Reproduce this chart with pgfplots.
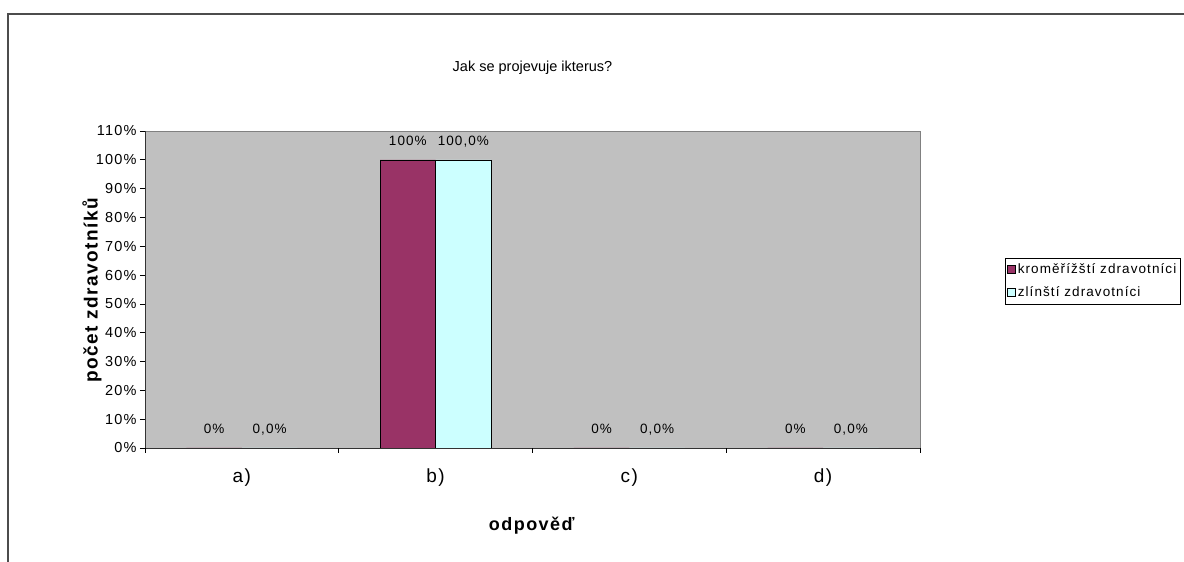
\documentclass[border=0pt]{standalone}
\usepackage{pgfplots}
\pgfplotsset{compat=1.18}
\usepackage{fontspec}
\setmainfont{Liberation Sans}
\newfontfamily\lsA[LetterSpace=8]{Liberation Sans}
\newfontfamily\lsB[LetterSpace=8]{Liberation Sans}
\definecolor{plum}{HTML}{993366}
\definecolor{lcyan}{HTML}{CCFFFF}
\definecolor{xlgray}{HTML}{C0C0C0}
\begin{document}
\begin{tikzpicture}[x=1pt,y=1pt]
\useasboundingbox (0,0) rectangle (1184,562);
\draw[line width=1.5pt, black!70] (8,0) -- (8,548) -- (1184,548);
\begin{axis}[
  at={(145pt,114pt)}, anchor=south west,
  scale only axis, width=775pt, height=317pt,
  ybar=0pt, bar width=55.5pt,
  xmin=-0.5, xmax=3.5, ymin=0, ymax=110,
  axis background/.style={fill=xlgray, draw=gray},
  axis x line*=bottom, axis y line*=left,
  x axis line style={-, black!80, line width=0.9pt},
  y axis line style={-, black!80, line width=0.9pt},
  /pgf/number format/assume math mode=true,
  ytick={0,10,...,110},
  yticklabel={\pgfmathprintnumber{\tick}\%},
  yticklabel style={font=\lsA\fontsize{14.5}{16}\selectfont, xshift=0pt},
  ytick style={black, line width=0.8pt},
  tick align=outside, major tick length=5pt,
  xtick={0,1,2,3},
  xticklabels={a),b),c),d)},
  xtick style={draw=none},
  xticklabel style={font=\lsA\fontsize{19}{21}\selectfont, yshift=-12pt},
  extra x ticks={-0.5,0.5,1.5,2.5,3.5},
  extra x tick labels={},
  extra x tick style={xtick style={draw=black, line width=0.8pt}, major tick length=5pt},
  title={Jak se projevuje ikterus?},
  title style={at={(axis description cs:0.5,1.18)}, anchor=center, font=\fontsize{14.5}{17}\selectfont},
  xlabel={\textbf{odpověď}},
  xlabel style={at={(axis description cs:0.5,-0.246)}, anchor=center, font=\lsB\fontsize{18}{20}\selectfont},
  ylabel={\textbf{počet zdravotníků}},
  ylabel style={at={(axis description cs:-0.0684,0.5)}, anchor=center, font=\lsB\fontsize{19}{21}\selectfont},
  legend style={at={(axis description cs:1.1097,0.527)}, anchor=west, draw=black, line width=0.6pt,
    font=\lsA\fontsize{13.5}{15}\selectfont, row sep=7pt, inner xsep=2pt, inner ysep=4pt, cells={anchor=west}},
  every node near coord/.append style={font=\lsA\fontsize{13.5}{15}\selectfont, inner sep=0pt, anchor=base, yshift=14pt},
]
\addplot[fill=plum, draw=black, line width=0.6pt, forget plot, bar shift=-27.75pt,
  nodes near coords={\pgfmathprintnumber[fixed,precision=0]{\pgfplotspointmeta}\%}]
  coordinates {(0,0) (1,100) (2,0) (3,0)};
\addplot[fill=lcyan, draw=black, line width=0.6pt, forget plot, bar shift=27.75pt,
  nodes near coords={\pgfmathprintnumber[fixed,fixed zerofill,precision=1,use comma]{\pgfplotspointmeta}\%}]
  coordinates {(0,0) (1,100) (2,0) (3,0)};
\addlegendimage{legend image code/.code={\draw[fill=plum,draw=black,line width=0.5pt] (0pt,-4pt) rectangle (8pt,4pt);}}
\addlegendentry{kroměřížští zdravotníci}
\addlegendimage{legend image code/.code={\draw[fill=lcyan,draw=black,line width=0.5pt] (0pt,-4pt) rectangle (8pt,4pt);}}
\addlegendentry{zlínští zdravotníci}
\end{axis}
\end{tikzpicture}
\end{document}
